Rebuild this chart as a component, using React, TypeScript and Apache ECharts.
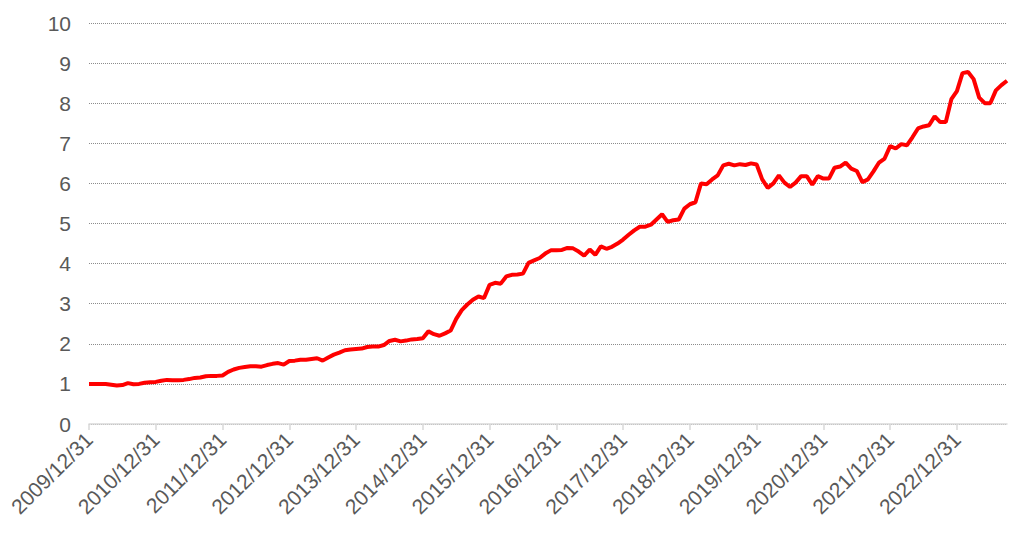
import React, { useEffect, useRef } from "react";
import * as echarts from "echarts";

// Month-end dates from 2009/12/31 to 2023/09/30
const startYear = 2009;
const startMonth = 12;
const monthCount = 166;
const categories: string[] = [];
for (let k = 0; k < monthCount; k++) {
  const m0 = startMonth - 1 + k;
  const y = startYear + Math.floor(m0 / 12);
  const m = (m0 % 12) + 1;
  const last = new Date(Date.UTC(y, m, 0)).getUTCDate();
  categories.push(`${y}/${m}/${last}`);
}

const values2010_2012: number[] = [
  1.0, 1.0, 1.0, 1.0, 0.98, 0.96, 0.97, 1.02, 0.99, 1.0, 1.03, 1.04,
  1.05, 1.08, 1.1, 1.09, 1.09, 1.1, 1.12, 1.15, 1.16, 1.19, 1.2, 1.2,
  1.21, 1.3, 1.36, 1.4, 1.42, 1.44, 1.44, 1.43, 1.47, 1.5, 1.52, 1.48,
];
const values2013_2015: number[] = [
  1.57, 1.58, 1.6, 1.6, 1.62, 1.64, 1.58, 1.66, 1.73, 1.78, 1.84, 1.86,
  1.87, 1.88, 1.92, 1.93, 1.93, 1.97, 2.07, 2.1, 2.06, 2.08, 2.11, 2.12,
  2.14, 2.31, 2.24, 2.2, 2.26, 2.33, 2.62, 2.84, 2.98, 3.1, 3.18, 3.14,
];
const values2016_2018: number[] = [
  3.47, 3.52, 3.5, 3.68, 3.72, 3.73, 3.75, 4.02, 4.08, 4.14, 4.25, 4.33,
  4.33, 4.34, 4.39, 4.38, 4.3, 4.2, 4.35, 4.22, 4.43, 4.37, 4.42, 4.5,
  4.6, 4.72, 4.83, 4.92, 4.92, 4.97, 5.1, 5.23, 5.04, 5.08, 5.1, 5.37,
];
const values2019_2021: number[] = [
  5.48, 5.53, 6.0, 5.98, 6.1, 6.2, 6.45, 6.49, 6.45, 6.48, 6.46, 6.5,
  6.47, 6.1, 5.89, 6.0, 6.2, 6.02, 5.91, 6.02, 6.18, 6.18, 5.97, 6.18,
  6.12, 6.12, 6.39, 6.42, 6.52, 6.37, 6.31, 6.03, 6.1, 6.3, 6.52, 6.62,
];
const values2022_2023: number[] = [
  6.93, 6.87, 6.98, 6.95, 7.15, 7.37, 7.42, 7.45, 7.67, 7.53, 7.53, 8.1,
  8.3, 8.75, 8.78, 8.6, 8.14, 8.0, 8.0, 8.32, 8.45, 8.56,
];
const seriesValues: number[] = [
  ...values2010_2012,
  ...values2013_2015,
  ...values2016_2018,
  ...values2019_2021,
  ...values2022_2023,
];

const yTicks = { min: 0, max: 10, interval: 1 };

export default function App() {
  const ref = useRef<HTMLDivElement>(null);
  useEffect(() => {
    if (!ref.current) return;
    const chart = echarts.init(ref.current, undefined, { renderer: "svg" });
    chart.setOption({
      animation: false,
      backgroundColor: "#ffffff",
      grid: { left: 89, right: 10, top: 23, bottom: 125, containLabel: false },
      xAxis: {
        type: "category",
        data: categories,
        boundaryGap: false,
        axisLine: { show: true, lineStyle: { color: "#d9d9d9", width: 1.5 } },
        axisTick: {
          show: true,
          interval: 11,
          length: 6,
          lineStyle: { color: "#d9d9d9", width: 1.5 },
        },
        axisLabel: {
          interval: 11,
          rotate: 45,
          margin: 12,
          color: "#595959",
          fontSize: 21,
          fontFamily: "Liberation Sans, Arial, sans-serif",
        },
        splitLine: { show: false },
      },
      yAxis: {
        type: "value",
        min: yTicks.min,
        max: yTicks.max,
        interval: yTicks.interval,
        axisLine: { show: false },
        axisTick: { show: false },
        axisLabel: {
          margin: 18,
          color: "#595959",
          fontSize: 21,
          fontFamily: "Liberation Sans, Arial, sans-serif",
        },
        splitLine: {
          show: true,
          lineStyle: { color: "#8c8c8c", type: "dotted", width: 1 },
        },
      },
      series: [
        {
          type: "line",
          data: seriesValues,
          showSymbol: false,
          symbol: "none",
          lineStyle: { color: "#ff0000", width: 4 },
          z: 5,
        },
      ],
    });
    return () => chart.dispose();
  }, []);
  return (
    <div
      ref={ref}
      style={{ position: "fixed", left: 0, top: 0, width: 1017, height: 549 }}
    />
  );
}
